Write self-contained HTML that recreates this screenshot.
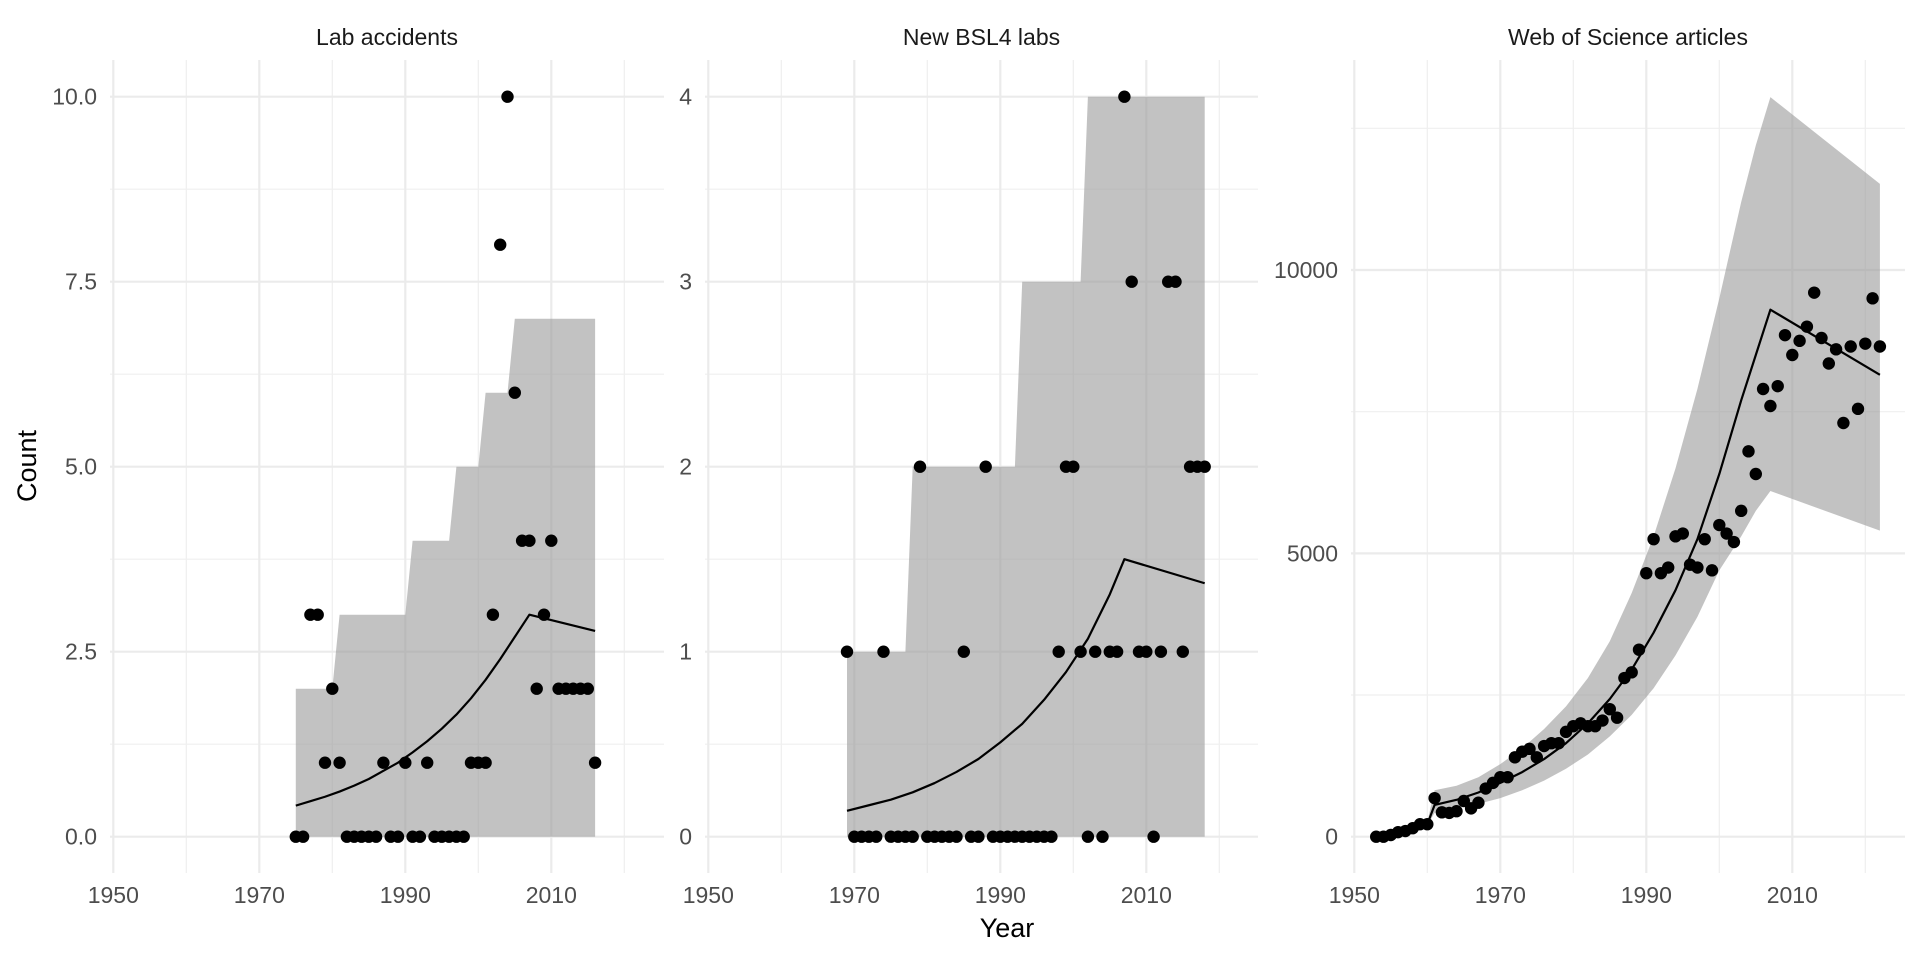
<!DOCTYPE html>
<html><head><meta charset="utf-8">
<style>
html,body{margin:0;padding:0;background:#fff;}
svg{display:block;font-family:"Liberation Sans",sans-serif;}
</style></head>
<body>
<svg id="chart" width="1920" height="960" viewBox="0 0 1920 960"></svg>
<script>
// ---- Panel 1: Lab accidents ----
const labYears = [1975,1976,1977,1978,1979,1980,1981,1982,1983,1984,1985,1986,1987,1988,1989,1990,1991,1992,1993,1994,1995,1996,1997,1998,1999,2000,2001,2002,2003,2004,2005,2006,2007,2008,2009,2010,2011,2012,2013,2014,2015,2016];
const labCounts = [0,0,3,3,1,2,1,0,0,0,0,0,1,0,0,1,0,0,1,0,0,0,0,0,1,1,1,3,8,10,6,4,4,2,3,4,2,2,2,2,2,1];
const labBandYears = [1975,1980,1981,1990,1991,1996,1997,2000,2001,2004,2005,2016];
const labBandUpper = [2,2,3,3,4,4,5,5,6,6,7,7];
const labFitYears = [1975,1977,1979,1981,1983,1985,1987,1989,1991,1993,1995,1997,1999,2001,2003,2005,2007,2016];
const labFitValues = [0.42,0.48,0.54,0.61,0.69,0.78,0.89,1.0,1.14,1.29,1.46,1.65,1.87,2.12,2.4,2.7,3.0,2.78];
const labYTicks = [0,2.5,5,7.5,10];
const labYLabels = ["0.0","2.5","5.0","7.5","10.0"];

// ---- Panel 2: New BSL4 labs ----
const bslYears = [1969,1970,1971,1972,1973,1974,1975,1976,1977,1978,1979,1980,1981,1982,1983,1984,1985,1986,1987,1988,1989,1990,1991,1992,1993,1994,1995,1996,1997,1998,1999,2000,2001,2002,2003,2004,2005,2006,2007,2008,2009,2010,2011,2012,2013,2014,2015,2016,2017,2018];
const bslCounts = [1,0,0,0,0,1,0,0,0,0,2,0,0,0,0,0,1,0,0,2,0,0,0,0,0,0,0,0,0,1,2,2,1,0,1,0,1,1,4,3,1,1,0,1,3,3,1,2,2,2];
const bslBandYears = [1969,1977,1978,1992,1993,2001,2002,2018];
const bslBandUpper = [1,1,2,2,3,3,4,4];
const bslFitYears = [1969,1972,1975,1978,1981,1984,1987,1990,1993,1996,1999,2002,2005,2007,2018];
const bslFitValues = [0.14,0.17,0.2,0.24,0.29,0.35,0.42,0.51,0.61,0.74,0.89,1.07,1.31,1.5,1.37];
const bslYTicks = [0,1,2,3,4];
const bslYLabels = ["0","1","2","3","4"];

// ---- Panel 3: Web of Science articles ----
const wosYears = [1953,1954,1955,1956,1957,1958,1959,1960,1961,1962,1963,1964,1965,1966,1967,1968,1969,1970,1971,1972,1973,1974,1975,1976,1977,1978,1979,1980,1981,1982,1983,1984,1985,1986,1987,1988,1989,1990,1991,1992,1993,1994,1995,1996,1997,1998,1999,2000,2001,2002,2003,2004,2005,2006,2007,2008,2009,2010,2011,2012,2013,2014,2015,2016,2017,2018,2019,2020,2021,2022];
const wosCounts = [0,0,30,80,100,150,220,220,680,430,420,450,630,500,600,850,950,1050,1050,1400,1500,1550,1400,1600,1650,1650,1850,1950,2000,1950,1950,2050,2250,2100,2800,2900,3300,4650,5250,4650,4750,5300,5350,4800,4750,5250,4700,5500,5350,5200,5750,6800,6400,7900,7600,7950,8850,8500,8750,9000,9600,8800,8350,8600,7300,8650,7550,8700,9500,8650];
const wosBandYears = [1960,1961,1964,1967,1970,1973,1976,1979,1982,1985,1988,1991,1994,1997,2000,2003,2005,2007,2022];
const wosBandUpper = [260,820,900,1050,1280,1560,1900,2300,2800,3450,4300,5300,6500,7900,9500,11200,12200,13050,11520];
const wosBandLower = [200,420,500,580,680,820,990,1200,1450,1770,2150,2620,3200,3880,4700,5300,5750,6100,5400];
const wosFitYears = [1953,1956,1958,1960,1961,1964,1967,1970,1973,1976,1979,1982,1985,1988,1991,1994,1997,2000,2003,2005,2007,2022];
const wosFitValues = [0,50,100,220,560,650,780,950,1140,1370,1650,2000,2430,2950,3600,4350,5250,6400,7700,8500,9300,8150];
const wosYTicks = [0,5000,10000];
const wosYLabels = ["0","5000","10000"];

const xTicks = [1950,1970,1990,2010];
const xMinor = [1960,1980,2000,2020];

const NS = "http://www.w3.org/2000/svg";
const svg = document.getElementById("chart");
function mk(tag, attrs, parent){
  const e = document.createElementNS(NS, tag);
  for (const k in attrs) e.setAttribute(k, attrs[k]);
  (parent||svg).appendChild(e);
  return e;
}
const TOP = 60, BOT = 873, Y0 = 836.7;

function panel(cfg){
  const g = mk("g", {});
  
  
  const L = cfg.left, R = cfg.right;
  const x = yr => L + 3.3 + (yr - 1950) * 7.3;
  const y = v => Y0 - (v / cfg.yTopVal) * (Y0 - cfg.yTopPx);
  for (let i = 0; i < cfg.yTicks.length; i++) {
    const step = cfg.yTicks[1] - cfg.yTicks[0];
    const mv = cfg.yTicks[i] + step / 2;
    const yy = y(mv);
    if (yy > TOP) {
      const l = mk("line", {x1:L, x2:R, y1:yy, y2:yy, stroke:"#efefef", "stroke-width":1.2}, g);
      
      
    }
  }
  xMinor.forEach(t => {
    const l = mk("line", {x1:x(t), x2:x(t), y1:TOP, y2:BOT, stroke:"#efefef", "stroke-width":1.2}, g);
    
    
  });
  cfg.yTicks.forEach((t, i) => {
    const l = mk("line", {x1:L, x2:R, y1:y(t), y2:y(t), stroke:"#ebebeb", "stroke-width":2.2}, g);
    
    
    const tx = mk("text", {x:L-13, y:y(t)+8, "text-anchor":"end", "font-size":23, fill:"#4d4d4d"}, g);
    tx.textContent = cfg.yLabels[i];
    
    
  });
  xTicks.forEach(t => {
    const l = mk("line", {x1:x(t), x2:x(t), y1:TOP, y2:BOT, stroke:"#ebebeb", "stroke-width":2.2}, g);
    
    
    const tx = mk("text", {x:x(t), y:903, "text-anchor":"middle", "font-size":23, fill:"#4d4d4d"}, g);
    tx.textContent = String(t);
    
    
  });
  let pts = [];
  cfg.bandYears.forEach((yr, i) => pts.push(x(yr) + "," + y(cfg.bandUpper[i])));
  for (let i = cfg.bandYears.length - 1; i >= 0; i--) {
    const lo = cfg.bandLower ? cfg.bandLower[i] : 0;
    pts.push(x(cfg.bandYears[i]) + "," + y(lo));
  }
  const band = mk("polygon", {points: pts.join(" "), fill:"#999999", "fill-opacity":0.6}, g);
  
  
  const fp = cfg.fitYears.map((yr, i) => x(yr) + "," + y(cfg.fitValues[i])).join(" ");
  const fit = mk("polyline", {points: fp, fill:"none", stroke:"#000", "stroke-width":2.2, "stroke-linejoin":"round"}, g);
  
  
  cfg.years.forEach((yr, i) => {
    const c = mk("circle", {cx:x(yr), cy:y(cfg.counts[i]), r:6.2, fill:"#000"}, g);
    
    
  });
  const title = mk("text", {x:(L+R)/2, y:45, "text-anchor":"middle", "font-size":23, fill:"#1a1a1a"}, g);
  title.textContent = cfg.title;
  
  
}

panel({name:"lab-accidents-panel", title:"Lab accidents", left:110, right:664, yTopVal:10, yTopPx:96.7,
  yTicks:labYTicks, yLabels:labYLabels, years:labYears, counts:labCounts,
  bandYears:labBandYears, bandUpper:labBandUpper, fitYears:labFitYears, fitValues:labFitValues});
panel({name:"bsl4-labs-panel", title:"New BSL4 labs", left:705, right:1258, yTopVal:4, yTopPx:96.7,
  yTicks:bslYTicks, yLabels:bslYLabels, years:bslYears, counts:bslCounts,
  bandYears:bslBandYears, bandUpper:bslBandUpper, fitYears:bslFitYears, fitValues:bslFitValues});
panel({name:"wos-articles-panel", title:"Web of Science articles", left:1351, right:1905, yTopVal:10000, yTopPx:270,
  yTicks:wosYTicks, yLabels:wosYLabels, years:wosYears, counts:wosCounts,
  bandYears:wosBandYears, bandUpper:wosBandUpper, bandLower:wosBandLower, fitYears:wosFitYears, fitValues:wosFitValues});

const xt = mk("text", {x:1007, y:937, "text-anchor":"middle", "font-size":27, fill:"#000"});
xt.textContent = "Year";


const yt = mk("text", {x:0, y:0, "text-anchor":"middle", "font-size":27, fill:"#000", transform:"translate(36,466) rotate(-90)"});
yt.textContent = "Count";


</script>
</body></html>
